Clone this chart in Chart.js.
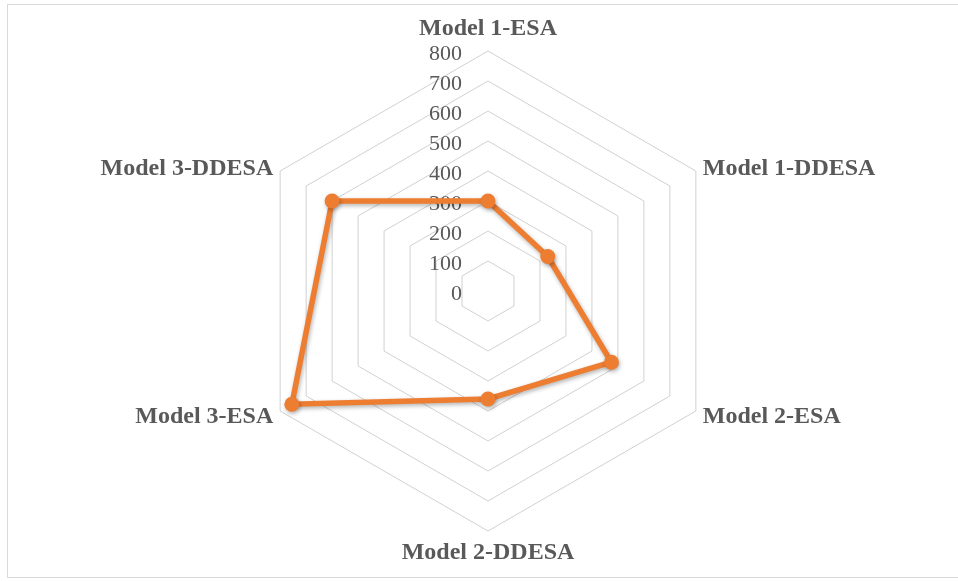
<!DOCTYPE html>
<html>
<head>
<meta charset="utf-8">
<script src="https://cdn.jsdelivr.net/npm/chart.js@4.4.1/dist/chart.umd.min.js"></script>
<style>
	html, body { margin:0; padding:0; background:#fff; }
	#wrap { position:relative; width:958px; height:581px; overflow:hidden; }
	#frame { position:absolute; left:7px; top:4px; width:960px; height:574px; border:1px solid #D9D9D9; box-sizing:border-box; }
	#cv { position:absolute; left:0; top:0; }
</style>
</head>
<body>
<div id="wrap">
	<div id="frame"></div>
	<canvas id="cv" width="958" height="581"></canvas>
</div>
<script>
// 축 이름
const models = ["Model 1-ESA", "Model 1-DDESA", "Model 2-ESA", "Model 2-DDESA", "Model 3-ESA", "Model 3-DDESA"];
// 값
const scores = [300, 230, 475, 360, 755, 600];
// 눈금
const tickMin = 0;
const tickMax = 800;
const tickStep = 100;

const serif = '"Liberation Serif", "Times New Roman", serif';

// 눈금 글자를 축 왼쪽에 오른쪽 정렬로 그림
const tickText = {
	id: 'tickText',
	beforeDatasetsDraw(chart){
		const s = chart.scales.r;
		const ctx = chart.ctx;
		ctx.save();
		ctx.font = '22px ' + serif;
		ctx.fillStyle = '#595959';
		ctx.textAlign = 'right';
		ctx.textBaseline = 'middle';
		s.ticks.forEach(function(t){
			const y = s.yCenter - s.getDistanceFromCenterForValue(t.value);
			ctx.fillText(t.value, s.xCenter - 26, y + 3);
		});
		ctx.restore();
	}
};

// 축 이름 (엑셀처럼 꼭짓점 옆에)
const axisText = {
	id: 'axisText',
	afterDraw(chart){
		const s = chart.scales.r;
		const ctx = chart.ctx;
		ctx.save();
		ctx.font = 'bold 24px ' + serif;
		ctx.fillStyle = '#595959';
		ctx.textBaseline = 'middle';
		chart.data.labels.forEach(function(lab, i){
			const n = chart.data.labels.length;
			const vertical = (i === 0 || i === n / 2);
			const p = s.getPointPosition(i, s.drawingArea + (vertical ? 22 : 8));
			if (vertical) ctx.textAlign = 'center';
			else if (i < n / 2) ctx.textAlign = 'left';
			else ctx.textAlign = 'right';
			ctx.fillText(lab, p.x, vertical ? p.y : p.y + 2);
		});
		ctx.restore();
	}
};

// 선 그림자
const shadow = {
	id: 'shadow',
	beforeDatasetDraw(chart){
		const ctx = chart.ctx;
		ctx.save();
		ctx.shadowColor = 'rgba(0,0,0,0.3)';
		ctx.shadowBlur = 4;
		ctx.shadowOffsetX = 1;
		ctx.shadowOffsetY = 2;
	},
	afterDatasetDraw(chart){
		chart.ctx.restore();
	}
};

new Chart(document.getElementById("cv"), {
	type: 'radar',
	data: {
		labels: models,
		datasets: [{
			data: scores,
			borderColor: "#ED7D31",
			backgroundColor: "#ED7D31",
			borderWidth: 5.5,
			pointRadius: 7.5,
			pointBackgroundColor: "#ED7D31",
			pointBorderWidth: 0,
			fill: false
		}]
	},
	options: {
		responsive: false,
		animation: false,
		layout: { padding: { top: 51, bottom: 50, left: 18, right: 0 } },
		plugins: {
			legend: { display: false },
			tooltip: { enabled: false }
		},
		scales: {
			r: {
				min: tickMin,
				max: tickMax,
				ticks: { stepSize: tickStep, display: false },
				grid: { color: '#D0D0D0', lineWidth: 1 },
				angleLines: { display: false },
				pointLabels: { display: false }
			}
		}
	},
	plugins: [tickText, axisText, shadow]
});
</script>
</body>
</html>
